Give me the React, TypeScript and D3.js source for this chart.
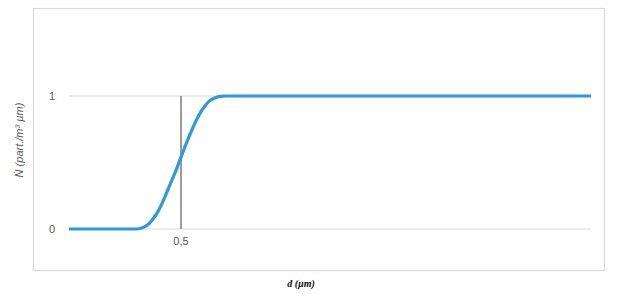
import React from "react";
import * as d3 from "d3";

const dValues = [0, 0.1, 0.2, 0.3, 0.325, 0.35, 0.375, 0.4, 0.425, 0.45, 0.475, 0.5, 0.525, 0.55, 0.575, 0.6, 0.625, 0.65, 0.675, 0.7, 0.8, 1.0, 1.5, 2.0, 2.33];
const nValues = [0, 0, 0, 0, 0.008, 0.03, 0.075, 0.14, 0.23, 0.33, 0.43, 0.54, 0.65, 0.75, 0.84, 0.91, 0.96, 0.985, 0.997, 1.0, 1.0, 1, 1, 1, 1];
const yTicks = [0, 1];
const markerD = 0.5;
const markerLabel = "0,5";
const xTitle = "d (µm)";
const yTitle = "Ṅ (part./m³ µm)";

export default function App() {
  const W = 631, H = 294;
  const x = d3.scaleLinear().domain([0, 2.33]).range([69, 591]);
  const y = d3.scaleLinear().domain([0, 1]).range([229, 96]);
  const data = dValues.map((d, i) => ({ d, n: nValues[i] }));
  const line = d3.line<{ d: number; n: number }>()
    .x((p) => x(p.d))
    .y((p) => y(p.n))
    .curve(d3.curveMonotoneX);

  return (
    <svg width={W} height={H} style={{ position: "absolute", left: 0, top: 0 }}>
      <rect x={0} y={0} width={W} height={H} fill="#fff" />
      <rect x={33.5} y={8.5} width={571} height={262} fill="#fff" stroke="#d9d9d9" strokeWidth={1.2} />
      {yTicks.map((t) => (
        <g key={t}>
          <line x1={69} x2={591} y1={y(t)} y2={y(t)} stroke="#d9d9d9" strokeWidth={1} />
          <text x={52} y={y(t)} dy="0.35em" textAnchor="middle" fontFamily="Liberation Sans, Arial, sans-serif" fontSize={11} fill="#595959">{t}</text>
        </g>
      ))}
      <line x1={x(markerD)} x2={x(markerD)} y1={y(1)} y2={y(0)} stroke="#595959" strokeWidth={1.2} />
      <text x={x(markerD)} y={241} dy="0.35em" textAnchor="middle" fontFamily="Liberation Sans, Arial, sans-serif" fontSize={11} fill="#595959">{markerLabel}</text>
      <path d={line(data) || ""} fill="none" stroke="#2E9BD6" strokeWidth={3.2} strokeLinejoin="round" />
      <text x={301} y={283} dy="0.35em" textAnchor="middle" fontFamily="Liberation Serif, Times New Roman, serif" fontSize={10} fontWeight="bold" fontStyle="italic" fill="#111">{xTitle}</text>
      <text transform="translate(19,140) rotate(-90)" textAnchor="middle" dy="0.35em" fontFamily="Liberation Sans, Arial, sans-serif" fontSize={11} fontStyle="italic" fill="#595959">{yTitle}</text>
    </svg>
  );
}
